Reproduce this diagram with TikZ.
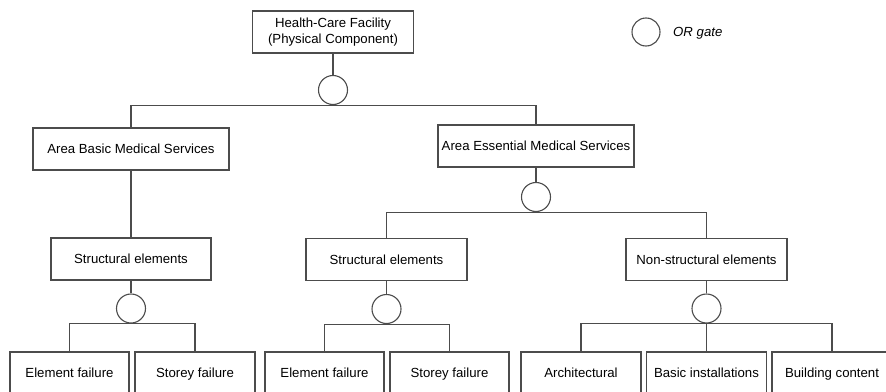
\documentclass[tikz,border=0pt]{standalone}
\usepackage{fontspec}
\setmainfont{Liberation Sans}
\begin{document}
\begin{tikzpicture}[x=1pt,y=-1pt,
  line/.style={draw=black!70,line width=1.1pt},
  box/.style={line,rectangle,fill=white,minimum height=42pt,inner sep=0pt,
    font=\fontsize{13.2}{16}\selectfont,align=center},
  leaf/.style={box,text height=9.5pt,text depth=0pt},
  gate/.style={line,circle,fill=white,minimum size=29pt,inner sep=0pt},
  conn/.style={line}]
\clip (0,0) rectangle (886,391);
\fill[white] (0,0) rectangle (886,391);

% event boxes
\node[box,minimum width=161pt] (top) at (333,32) {Health-Care Facility\\(Physical Component)};
\node[leaf,minimum width=196pt] (areaB) at (131,149) {Area Basic Medical Services};
\node[leaf,minimum width=196pt] (areaE) at (536,146) {Area Essential Medical Services};
\node[leaf,minimum width=160pt] (strL) at (131,259) {Structural elements};
\node[leaf,minimum width=161pt] (strM) at (386.5,259.5) {Structural elements};
\node[leaf,minimum width=161pt] (nonS) at (706.5,259.5) {Non-structural elements};

% basic events (cut off at the lower edge)
\node[leaf,minimum width=119pt] (bl1) at (69.5,373) {Element failure};
\node[leaf,minimum width=120pt] (bl2) at (195,373) {Storey failure};
\node[leaf,minimum width=119pt] (bm1) at (324.5,373) {Element failure};
\node[leaf,minimum width=119pt] (bm2) at (449.5,373) {Storey failure};
\node[leaf,minimum width=120pt] (br1) at (581,373) {Architectural};
\node[leaf,minimum width=120pt] (br2) at (706.5,373) {Basic installations};
\node[leaf,minimum width=120pt] (br3) at (832,373) {Building content};

% OR gates
\node[gate] (g0) at (333,90) {};
\node[gate] (gE) at (536,197) {};
\node[gate] (gL) at (131,308.5) {};
\node[gate] (gM) at (386.5,309) {};
\node[gate] (gR) at (706.5,308.5) {};

% connectors
\draw[conn] (top.south) -- (g0.north);
\draw[conn] (areaB.north) |- (g0.south) -| (areaE.north);
\draw[conn] (areaB.south) -- (strL.north);
\draw[conn] (areaE.south) -- (gE.north);
\draw[conn] (strM.north) |- (gE.south) -| (nonS.north);
\draw[conn] (strL.south) -- (gL.north);
\draw[conn] (bl1.north) |- (gL.south) -| (bl2.north);
\draw[conn] (strM.south) -- (gM.north);
\draw[conn] (bm1.north) |- (gM.south) -| (bm2.north);
\draw[conn] (nonS.south) -- (gR.north);
\draw[conn] (br1.north) |- (gR.south) -| (br3.north);
\draw[conn] (gR.south) -- (br2.north);

% legend
\node[gate,minimum size=28pt] (lg) at (646,32) {};
\node[anchor=west,inner sep=0pt,font=\fontsize{13.2}{16}\selectfont\itshape] (lgt) at (673,33) {OR gate};
\end{tikzpicture}
\end{document}
